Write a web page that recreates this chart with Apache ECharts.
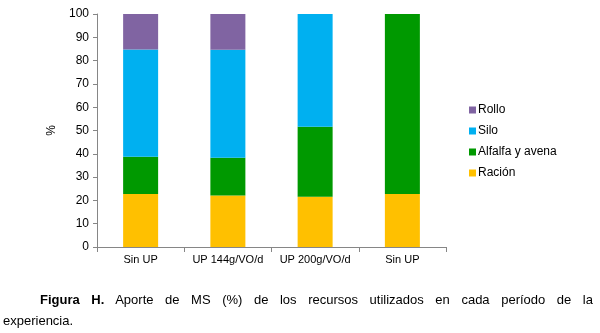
<!DOCTYPE html>
<html><head><meta charset="utf-8">
<script src="https://cdn.jsdelivr.net/npm/echarts@6/dist/echarts.min.js"></script>
<style>
html,body{margin:0;padding:0;background:#fff;}
#c{position:absolute;left:0;top:0;width:600px;height:333px;}
.cap{position:absolute;font-family:"Liberation Sans",Arial,sans-serif;font-size:13px;line-height:20px;color:#000;white-space:nowrap;}
#cap1{left:40px;top:290px;width:553px;text-align:justify;text-align-last:justify;}
#cap2{left:3px;top:311px;}
</style></head>
<body>
<div id="c"></div>
<div id="cap1" class="cap"><b>Figura H.</b> Aporte de MS (%) de los recursos utilizados en cada período de la</div>
<div id="cap2" class="cap">experiencia.</div>
<script>
const categories = ["Sin UP", "UP 144g/VO/d", "UP 200g/VO/d", "Sin UP"];
const racion = [22.7, 22.1, 21.6, 22.7];
const alfalfa = [16.0, 16.2, 30.0, 77.3];
const silo = [46.1, 46.4, 48.4, 0];
const rollo = [15.2, 15.3, 0, 0];
const yTicks = [0,10,20,30,40,50,60,70,80,90,100];

const chart = echarts.init(document.getElementById('c'));
const mk = (name, data, color) => ({name, type:'bar', stack:'s', data, barWidth:35, itemStyle:{color}});
chart.setOption({
  animation:false,
  grid:{left:97,right:154,top:14,bottom:86},
  legend:{
    orient:'vertical', left:464, top:99, itemWidth:7, itemHeight:7, itemGap:9,
    icon:'rect',
    data:['Rollo','Silo','Alfalfa y avena','Ración'],
    textStyle:{fontFamily:'Liberation Sans, Arial',fontSize:12,color:'#000',padding:[0,0,0,-3]}
  },
  xAxis:{type:'category',data:categories,
    axisLine:{lineStyle:{color:'#868686'}},
    axisTick:{show:true,length:5,lineStyle:{color:'#868686'}},
    axisLabel:{interval:0,color:'#000',fontFamily:'Liberation Sans, Arial',fontSize:11,margin:7}},
  yAxis:{type:'value',min:yTicks[0],max:yTicks[yTicks.length-1],interval:10,
    name:'%',nameLocation:'middle',nameGap:36,nameRotate:90,
    nameTextStyle:{color:'#000',fontFamily:'Liberation Sans, Arial',fontSize:12},
    axisLine:{show:true,lineStyle:{color:'#868686'}},
    axisTick:{show:true,length:4,lineStyle:{color:'#868686'}},
    splitLine:{show:false},
    axisLabel:{color:'#000',fontFamily:'Liberation Sans, Arial',fontSize:12,margin:8}},
  series:[
    mk('Ración',racion,'#FFC000'),
    mk('Alfalfa y avena',alfalfa,'#009900'),
    mk('Silo',silo,'#00B0F0'),
    mk('Rollo',rollo,'#8064A2')
  ]
});
</script>
</body></html>
